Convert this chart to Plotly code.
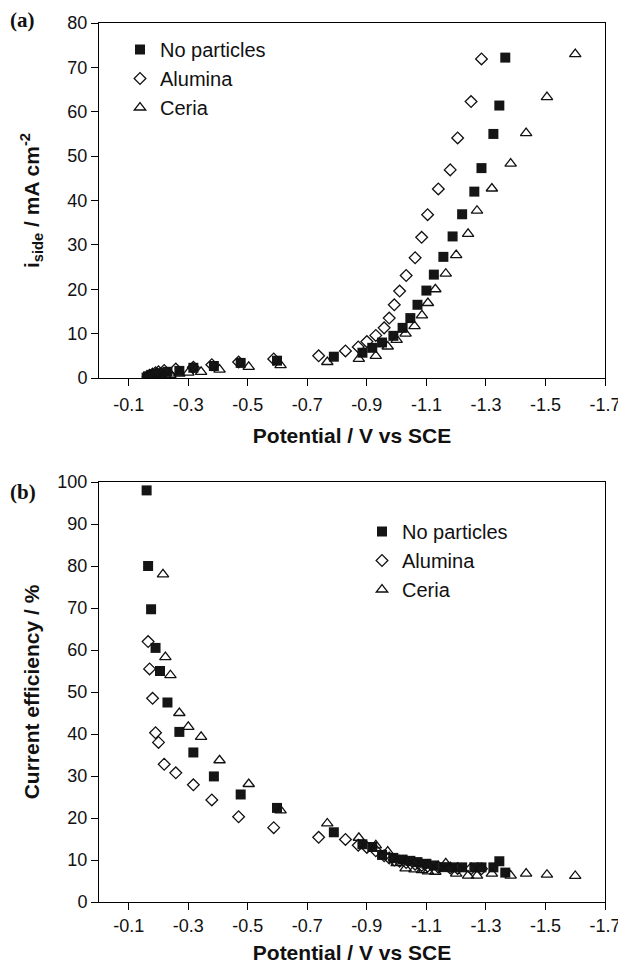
import plotly.graph_objects as go

# ---- data ----
# No particles
v_np = [-0.16, -0.165, -0.175, -0.19, -0.205, -0.23, -0.27, -0.317, -0.386, -0.476, -0.598, -0.789,
        -0.885, -0.918, -0.951, -0.989, -1.02, -1.046, -1.07, -1.10, -1.125, -1.157, -1.188, -1.22,
        -1.261, -1.285, -1.325, -1.345, -1.365]
i_np = [0.1, 0.4, 0.7, 0.9, 1.1, 1.4, 1.6, 2.3, 2.7, 3.4, 3.9, 4.8,
        5.7, 6.8, 8.0, 9.5, 11.3, 13.5, 16.5, 19.7, 23.3, 27.3, 31.9, 36.9,
        42.0, 47.3, 55.0, 61.4, 72.2]
ce_np = [98, 80, 69.7, 60.5, 55, 47.5, 40.5, 35.6, 29.9, 25.6, 22.4, 16.6,
         13.75, 13.1, 11.2, 10.5, 10.1, 9.8, 9.5, 9.1, 8.7, 8.3, 8.25, 8.25,
         8.25, 8.25, 8.25, 9.7, 7.0]

# Alumina
v_al = [-0.165, -0.17, -0.18, -0.19, -0.20, -0.219, -0.258, -0.317, -0.379, -0.469, -0.587, -0.738,
        -0.828, -0.871, -0.90, -0.93, -0.958, -0.975, -0.992, -1.01, -1.032, -1.062, -1.084, -1.104,
        -1.14, -1.18, -1.205, -1.25, -1.285]
i_al = [0.3, 0.6, 0.9, 1.2, 1.4, 1.7, 2.0, 2.4, 3.0, 3.6, 4.3, 5.0,
        6.1, 7.0, 8.2, 9.6, 11.3, 13.5, 16.5, 19.6, 23.1, 27.1, 31.7, 36.8,
        42.6, 46.9, 54.1, 62.3, 71.9]
ce_al = [62, 55.5, 48.5, 40.3, 38, 32.8, 30.75, 27.9, 24.3, 20.3, 17.7, 15.4,
         14.9, 13.5, 13, 12.2, 11, 10.5, 10, 9.7, 9.4, 9, 8.7, 8.5,
         8.3, 8.1, 8, 7.9, 7.9]

# Ceria
v_ce = [-0.215, -0.223, -0.24, -0.27, -0.30, -0.343, -0.405, -0.503, -0.61, -0.767, -0.873,
        -0.93, -0.97, -1.0, -1.03, -1.06, -1.085, -1.105, -1.13, -1.165, -1.2, -1.24, -1.27,
        -1.32, -1.383, -1.435, -1.505, -1.6]
i_ce = [0.2, 0.5, 0.7, 1.0, 1.2, 1.4, 1.9, 2.5, 2.9, 3.6, 4.3,
        5.0, 7.1, 8.6, 10.0, 11.7, 14.1, 16.9, 20.0, 23.5, 27.7, 32.5, 37.7,
        42.7, 48.3, 55.2, 63.3, 73.0]
ce_ce = [78, 58.3, 54, 45, 41.7, 39.3, 33.75, 28.1, 21.8, 18.7, 15.3,
         13.5, 12.0, 9.25, 8.0, 7.75, 7.6, 7.3, 7.2, 9.2, 6.75, 6.3, 6.3,
         6.75, 6.3, 6.75, 6.5, 6.2]

x_tickvals = [-0.1, -0.3, -0.5, -0.7, -0.9, -1.1, -1.3, -1.5, -1.7]
x_ticktext = ["-0.1", "-0.3", "-0.5", "-0.7", "-0.9", "-1.1", "-1.3", "-1.5", "-1.7"]

series = [
    ("No particles", v_np, i_np, ce_np, dict(symbol="square", size=10, color="#151515",
                                              line=dict(width=0))),
    ("Alumina", v_al, i_al, ce_al, dict(symbol="diamond-open", size=9, color="#111111",
                                        line=dict(width=1.3, color="#111111"))),
    ("Ceria", v_ce, i_ce, ce_ce, dict(symbol="triangle-up-open", size=10, color="#111111",
                                      line=dict(width=1.3, color="#111111"))),
]

# the page body adds an 8px margin, so the paper is 8px smaller than the window
OFF = 8
W, H = 626 - OFF, 964 - OFF


def px_x(sx):
    return (sx - OFF) / W


def px_y(sy):
    return 1 - (sy - OFF) / H


fig = go.Figure()
for name, v, i, ce, mk in series:
    fig.add_trace(go.Scatter(x=v, y=i, mode="markers", name=name, marker=mk,
                             xaxis="x", yaxis="y", legend="legend"))
for name, v, i, ce, mk in series:
    fig.add_trace(go.Scatter(x=v, y=ce, mode="markers", name=name, marker=mk,
                             xaxis="x2", yaxis="y2", legend="legend2"))

font = "Liberation Sans, Arial, Helvetica, sans-serif"
axis_common = dict(showline=True, linecolor="black", linewidth=1, mirror=True,
                   ticks="outside", ticklen=7, tickcolor="black", showgrid=False,
                   zeroline=False, automargin=False,
                   tickfont=dict(family=font, size=18, color="#111"))

xdom = [px_x(99), px_x(605)]
top_dom = [px_y(378), px_y(23)]
bot_dom = [px_y(902), px_y(482)]

fig.update_layout(
    width=W, height=H, margin=dict(l=0, r=0, t=0, b=0),
    paper_bgcolor="white", plot_bgcolor="white",
    font=dict(family=font, color="#111"),
    xaxis=dict(axis_common, domain=xdom, range=[0, -1.7], anchor="y",
               tickvals=x_tickvals, ticktext=x_ticktext, ticklabelstandoff=3,
               title=dict(text="<b>Potential / V vs SCE</b>", font=dict(size=21), standoff=14)),
    yaxis=dict(axis_common, domain=top_dom, range=[0, 80], dtick=10, anchor="x",
               title=dict(text="<b>i<sub>side</sub> / mA cm<sup>-2</sup></b>", font=dict(size=21),
                          standoff=22)),
    xaxis2=dict(axis_common, domain=xdom, range=[0, -1.7], anchor="y2",
                tickvals=x_tickvals, ticktext=x_ticktext,
                title=dict(text="<b>Potential / V vs SCE</b>", font=dict(size=21), standoff=10)),
    yaxis2=dict(axis_common, domain=bot_dom, range=[0, 100], dtick=10, anchor="x2",
                title=dict(text="<b>Current efficiency / %</b>", font=dict(size=21), standoff=12)),
    legend=dict(x=px_x(120), y=px_y(30), xanchor="left", yanchor="top",
                bgcolor="rgba(0,0,0,0)", font=dict(family=font, size=20), tracegroupgap=0,
                itemwidth=30),
    legend2=dict(x=px_x(362), y=px_y(512), xanchor="left", yanchor="top",
                 bgcolor="rgba(0,0,0,0)", font=dict(family=font, size=20), tracegroupgap=0,
                 itemwidth=30),
    showlegend=True,
)

serif = "Liberation Serif, Times New Roman, serif"
fig.add_annotation(text="<b>(a)</b>", x=px_x(8), y=px_y(20), xref="paper", yref="paper",
                   xanchor="left", yanchor="middle", showarrow=False,
                   font=dict(family=serif, size=21, color="#111"))
fig.add_annotation(text="<b>(b)</b>", x=px_x(8), y=px_y(492), xref="paper", yref="paper",
                   xanchor="left", yanchor="middle", showarrow=False,
                   font=dict(family=serif, size=21, color="#111"))

fig.write_html("out.html")
